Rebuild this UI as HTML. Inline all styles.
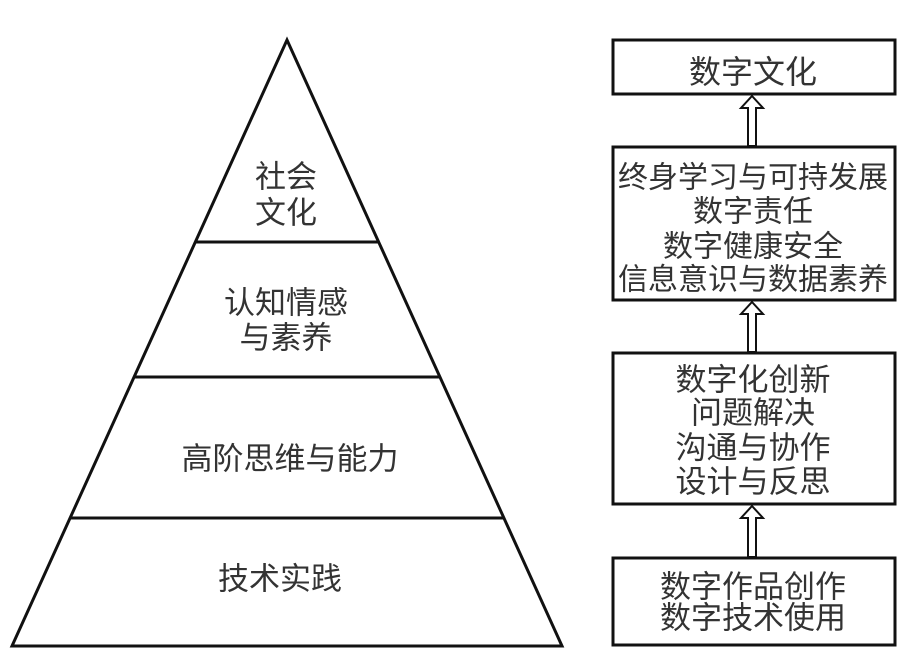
<!DOCTYPE html>
<html><head><meta charset="utf-8"><style>
html,body{margin:0;padding:0;background:#fff;}
svg text{font-family:"Liberation Sans","Noto Sans CJK SC",sans-serif;fill:#333;text-anchor:middle;dominant-baseline:central;}
</style></head><body>
<svg width="905" height="655" viewBox="0 0 905 655" xmlns="http://www.w3.org/2000/svg">
<g stroke="#111" stroke-width="3" fill="none">
<polygon points="287,40 12,646 562,646" stroke-linejoin="miter"/>
<line x1="195" y1="242" x2="379" y2="242"/>
<line x1="134" y1="377" x2="440" y2="377"/>
<line x1="70" y1="518" x2="504" y2="518"/>
<rect x="613" y="40" width="282" height="54"/>
<rect x="613" y="147" width="282" height="153"/>
<rect x="613" y="353" width="282" height="151"/>
<rect x="613" y="558" width="282" height="87"/>
</g>
<g stroke="#111" stroke-width="2" fill="#fff">
<polygon points="752,96 763,108 756,108 756,146 748,146 748,108 741,108"/>
<polygon points="752,302 763,314 756,314 756,352 748,352 748,314 741,314"/>
<polygon points="752,506 763,518 756,518 756,557 748,557 748,518 741,518"/>
</g>
<g font-size="31">
<text x="286" y="177">社会</text>
<text x="286" y="213">文化</text>
<text x="286" y="303">认知情感</text>
<text x="286" y="338">与素养</text>
<text x="290" y="459">高阶思维与能力</text>
<text x="280" y="579">技术实践</text>
<text x="753" y="72" font-size="32">数字文化</text>
<text x="753" y="178" font-size="30">终身学习与可持发展</text>
<text x="753" y="212" font-size="30">数字责任</text>
<text x="753" y="247" font-size="30">数字健康安全</text>
<text x="753" y="280" font-size="30">信息意识与数据素养</text>
<text x="753" y="380">数字化创新</text>
<text x="753" y="413">问题解决</text>
<text x="753" y="448">沟通与协作</text>
<text x="753" y="482">设计与反思</text>
<text x="753" y="587">数字作品创作</text>
<text x="753" y="618">数字技术使用</text>
</g>
</svg>
</body></html>
